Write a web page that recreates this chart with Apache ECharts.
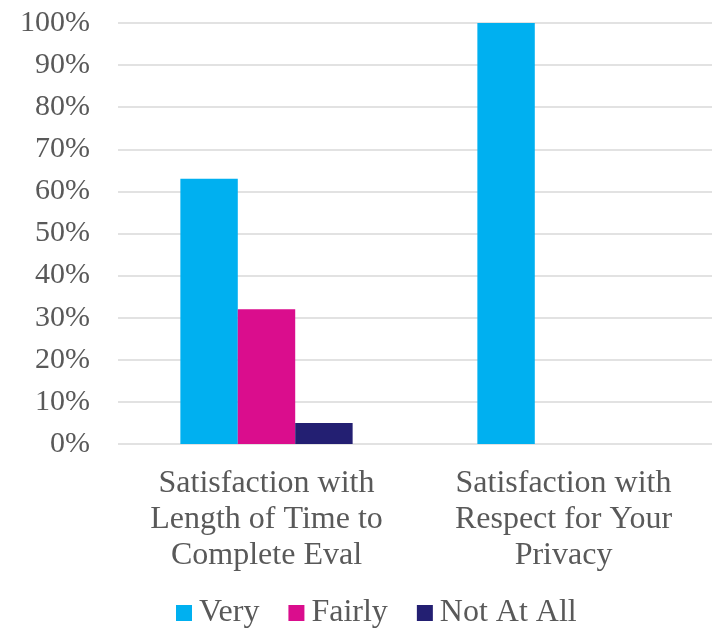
<!DOCTYPE html>
<html>
<head>
<meta charset="utf-8">
<script src="https://cdn.jsdelivr.net/npm/echarts@6/dist/echarts.min.js"></script>
<style>
  html, body { margin: 0; padding: 0; background: #fff; }
  #chart { width: 712px; height: 632px; }
</style>
</head>
<body>
<div id="chart"></div>
<script>
const categories = [
  'Satisfaction with\nLength of Time to\nComplete Eval',
  'Satisfaction with\nRespect for Your\nPrivacy'
]
const seriesNames = ['Very', 'Fairly', 'Not At All']
const veryValues = [63, 100]
const fairlyValues = [32, 0]
const notAtAllValues = [5, 0]
const colors = ['#00B0F0', '#DA0D8D', '#231F72']

const font = '"Liberation Serif", "Times New Roman", serif'
const textColor = '#595959'

const chart = echarts.init(document.getElementById('chart'))

const option = {
  animation: false,
  color: colors,
  textStyle: { fontFamily: font },
  grid: { left: 118, right: 0, top: 23, bottom: 188 },
  legend: {
    bottom: -2,
    left: 171,
    itemWidth: 16,
    itemHeight: 16,
    itemGap: 29,
    icon: 'rect',
    textStyle: { fontFamily: font, fontSize: 32, color: textColor, padding: [0, 0, 0, 2] },
    data: seriesNames
  },
  xAxis: {
    type: 'category',
    data: categories,
    axisLine: { show: false },
    axisTick: { show: false },
    axisLabel: {
      fontFamily: font,
      fontSize: 32,
      color: textColor,
      lineHeight: 36,
      margin: 22,
      interval: 0
    }
  },
  yAxis: {
    type: 'value',
    min: 0,
    max: 100,
    interval: 10,
    axisLine: { show: false },
    axisTick: { show: false },
    axisLabel: {
      fontFamily: font,
      fontSize: 30,
      color: textColor,
      margin: 28,
      formatter: '{value}%'
    },
    splitLine: { lineStyle: { color: '#D9D9D9', width: 1.5 } }
  },
  series: [
    { name: seriesNames[0], type: 'bar', data: veryValues, barGap: '0%', barCategoryGap: '42%' },
    { name: seriesNames[1], type: 'bar', data: fairlyValues, barGap: '0%', barCategoryGap: '42%' },
    { name: seriesNames[2], type: 'bar', data: notAtAllValues, barGap: '0%', barCategoryGap: '42%' }
  ]
}

chart.setOption(option)
</script>
</body>
</html>
